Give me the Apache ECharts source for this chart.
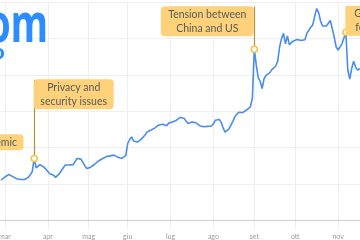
<!DOCTYPE html>
<html><head><meta charset="utf-8">
<script src="https://cdn.jsdelivr.net/npm/echarts@6/dist/echarts.min.js"></script>
<style>html,body{margin:0;padding:0;background:#fff;overflow:hidden;width:360px;height:240px}
#wrap{position:relative;width:360px;height:240px;overflow:hidden}
#c{position:absolute;left:-40px;top:0;width:440px;height:240px}</style>
</head><body><div id="wrap"><div id="c"></div></div>
<script>
// ---- data ----
const monthLabels = ['gen','feb','mar','apr','mag','giu','lug','ago','set','ott','nov','dic'];
const holidays = ['2020-02-17','2020-04-10','2020-05-25','2020-07-03','2020-09-07'];
const firstDay = '2020-01-31';
const lastDay = '2020-11-18';
const priceStart = '2020-02-27';
const price = [
 110,115,119,123,126,127,120,116,114,113,112,111,
 112,113,118,125,134,170,144,148,153,152,
 146,140,134,128,131,124,118,122,129,137,
 145,152,154,152,152,153,158,170,167,168,
 159,150,142,143,146,149,154,158,163,167,
 169,172,175,179,177,176,179,177,173,170,
 170,174,178,211,222,229,218,214,215,219,
 223,223,235,243,245,248,251,254,258,262,
 264,264,260,260,267,269,270,273,275,277,
 283,283,280,272,266,265,270,273,268,264,
 260,257,257,259,258,258,259,265,275,279,
 277,269,254,242,246,251,256,272,285,289,
 297,297,296,300,303,305,312,336,470,427,
 392,382,362,389,398,396,406,414,419,424,
 437,477,500,514,485,507,483,487,493,496,
 497,496,494,493,496,514,518,531,537,561,
 582,571,548,534,533,534,532,549,527,504,
 477,468,466,485,501,517,413,388,417,437,
 421,413,417,419
];
const annDates  = ['2020-01-31','2020-03-23','2020-09-01','2020-11-06'];
const annValues = [76, 170, 470, 517];
const annTexts  = ['Pandemic','Privacy and\nsecurity issues','Tension between\nChina and US','Good news\nfor vaccine'];
const annTops   = [235, 386, 587, 588];

// ---- layout / style ----
const OFF = 40;          // container is shifted 40px to the left
const CW = 440;
const annBoxW   = [58, 80, 93, 70];
const annSide   = [1, 1, -1, 1];

function fmt(d){const m=d.getUTCMonth()+1, dd=d.getUTCDate();return d.getUTCFullYear()+'-'+(m<10?'0':'')+m+'-'+(dd<10?'0':'')+dd;}
const dates = [];
for (let d = new Date(firstDay+'T00:00:00Z'); fmt(d) <= lastDay; d.setUTCDate(d.getUTCDate()+1)) {
  const wd = d.getUTCDay(); const s = fmt(d);
  if (wd === 0 || wd === 6 || holidays.includes(s)) continue;
  dates.push(s);
}
const startIdx = dates.indexOf(priceStart);
const series0 = dates.map((d,i)=> (i>=startIdx && i-startIdx < price.length) ? price[i-startIdx] : null);
const isMonthStart = (i)=> i>0 && dates[i].slice(5,7) !== dates[i-1].slice(5,7);

const chart = echarts.init(document.getElementById('c'), null, {renderer:'canvas', width:CW, height:240});
const N = dates.length;
const marIdx = dates.indexOf('2020-03-02');
const pxPer = 1.956;
const gridLeft = OFF + 3.5 - pxPer*marIdx;
const gridWidth = pxPer*(N-1);
const gridRight = CW - (gridLeft + gridWidth);

const lineColor = '#b09042';
const markerData = [];
const lineData = [];
annDates.forEach((d,k)=>{
  lineData.push([{coord:[d, annValues[k]]},{coord:[d, annTops[k]]}]);
  markerData.push({coord:[d, annValues[k]], symbol:'circle', symbolSize:6,
    itemStyle:{color:'#fff', borderColor:'#f4c445', borderWidth:1.5}, label:{show:false}});
});
const boxData = annDates.map((d,k)=>({
  coord:[d, annTops[k]], symbol:'rect', symbolSize:1, itemStyle:{color:'rgba(0,0,0,0)'},
  label:{show:true, formatter:annTexts[k], position:[annSide[k]*annBoxW[k]/2, 0],
    align:'center', verticalAlign:'top', width:annBoxW[k]-14,
    backgroundColor:'#fdd27b', borderRadius:4, padding:[1,7],
    lineHeight:14, fontSize:10.5, fontFamily:'Lato', color:'#5a5a5a'}
}));

chart.setOption({
  animation:false,
  backgroundColor:'#fff',
  grid:[
    {left:gridLeft, right:gridRight, top:2, bottom:11},
    {left:gridLeft, right:gridRight, top:2, bottom:56}
  ],
  xAxis:[
    {type:'category', gridIndex:0, data:dates, boundaryGap:false,
     axisLine:{lineStyle:{color:'#cfcfcf', width:1}},
     axisTick:{show:false},
     axisLabel:{interval:(i)=>isMonthStart(i), formatter:(v)=>monthLabels[parseInt(v.slice(5,7))-1],
       fontSize:7, color:'#9a9a9a', margin:4, fontFamily:'Lato'},
     splitLine:{show:true, interval:(i)=>isMonthStart(i), lineStyle:{color:'#efefef', width:1}}},
    {type:'category', gridIndex:1, data:dates, boundaryGap:false, show:false}
  ],
  yAxis:[
    {type:'value', gridIndex:0, min:-24, max:600, splitLine:{show:false}, axisLabel:{show:false},
     axisLine:{show:false}, axisTick:{show:false}},
    {type:'value', gridIndex:1, min:100, max:600, interval:100, axisLabel:{show:false},
     axisLine:{show:false}, axisTick:{show:false}, splitLine:{show:true, lineStyle:{color:'#efefef', width:1}}}
  ],
  graphic:[
    {type:'text', x:OFF+48, y:27, scaleX:0.72, z:10,
     style:{text:'zoom', font:'bold 53px "Noto Sans"', fill:'#2D8CFF', textAlign:'right', textVerticalAlign:'middle'}},
    {type:'text', x:OFF+5, y:53, z:10,
     style:{text:'video', font:'bold 20px "Noto Sans"', fill:'#2D8CFF', textAlign:'right', textVerticalAlign:'middle'}}
  ],
  series:[
    {type:'line', xAxisIndex:0, yAxisIndex:0, data:series0, showSymbol:false, symbol:'none',
     lineStyle:{color:'#4a8ee8', width:1.6}, z:2, connectNulls:false},
    {type:'line', xAxisIndex:0, yAxisIndex:0, data:[], z:3,
     markPoint:{silent:true, animation:false, data:boxData}},
    {type:'line', xAxisIndex:0, yAxisIndex:0, data:[], z:4,
     markLine:{silent:true, animation:false, symbol:['none','none'], label:{show:false},
       lineStyle:{color:lineColor, width:1.2, type:'solid'}, data:lineData},
     markPoint:{silent:true, animation:false, data:markerData}}
  ]
});
</script></body></html>
